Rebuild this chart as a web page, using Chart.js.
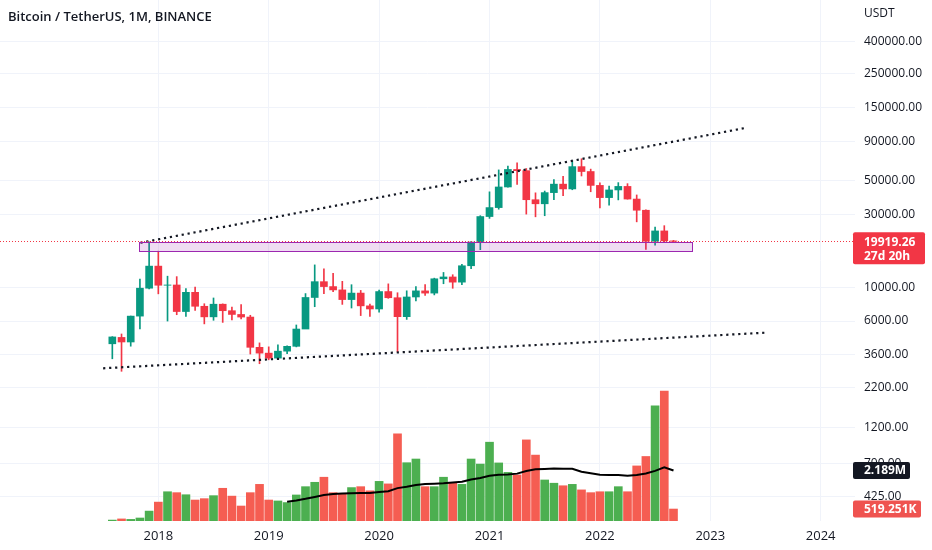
<!DOCTYPE html>
<html>
<head>
<meta charset="utf-8">
<script src="https://cdn.jsdelivr.net/npm/chart.js@4.4.1/dist/chart.umd.min.js"></script>
<style>
    html, body { margin: 0; padding: 0; background: #ffffff; }
    #wrap { width: 932px; height: 550px; position: relative; }
</style>
</head>
<body>
<div id="wrap"><canvas id="btc-chart"></canvas></div>
<script>
"use strict";

// Monthly BTC/USDT candles, Aug 2017 .. Sep 2022
const months = [
    '2017-08', '2017-09', '2017-10', '2017-11', '2017-12',
    '2018-01', '2018-02', '2018-03', '2018-04', '2018-05', '2018-06', '2018-07', '2018-08', '2018-09', '2018-10', '2018-11', '2018-12',
    '2019-01', '2019-02', '2019-03', '2019-04', '2019-05', '2019-06', '2019-07', '2019-08', '2019-09', '2019-10', '2019-11', '2019-12',
    '2020-01', '2020-02', '2020-03', '2020-04', '2020-05', '2020-06', '2020-07', '2020-08', '2020-09', '2020-10', '2020-11', '2020-12',
    '2021-01', '2021-02', '2021-03', '2021-04', '2021-05', '2021-06', '2021-07', '2021-08', '2021-09', '2021-10', '2021-11', '2021-12',
    '2022-01', '2022-02', '2022-03', '2022-04', '2022-05', '2022-06', '2022-07', '2022-08', '2022-09'
];

const opens = [
    4261.48, 4689.89, 4378.49, 6463.00, 9837.00,
    13715.65, 10285.10, 10326.76, 6923.91, 9246.01, 7494.50, 6391.08, 7730.93, 7011.21, 6626.57, 6371.93, 4041.27,
    3702.90, 3434.10, 3813.69, 4102.35, 5320.81, 8555.00, 10854.10, 10080.53, 9588.74, 8289.97, 9140.86, 7541.89,
    7195.24, 9352.89, 8523.61, 6410.44, 8620.00, 9448.27, 9138.08, 11335.46, 11649.51, 10776.59, 13791.00, 19695.87,
    28923.63, 33092.97, 45134.11, 58739.46, 57697.25, 37253.82, 35045.00, 41461.84, 47100.89, 43824.10, 61299.81, 56950.56,
    46216.93, 38466.90, 43160.00, 45510.35, 37630.80, 31801.05, 19942.21, 23296.36, 20050.02
];

const highs = [
    4745.42, 4939.19, 6470.00, 11300.03, 19798.68,
    17176.24, 11786.01, 11710.00, 9765.00, 10020.00, 7786.69, 8491.77, 7769.04, 7410.00, 7680.00, 6545.00, 4319.00,
    4069.80, 4198.00, 4140.00, 5656.00, 9074.26, 13970.00, 13147.08, 12325.00, 10905.87, 10370.00, 9513.40, 7750.00,
    9578.00, 10500.00, 9188.00, 9460.00, 10067.00, 10380.00, 11444.00, 12468.00, 12050.85, 14100.00, 19863.16, 29300.00,
    41950.00, 58352.80, 61844.00, 64854.00, 59592.20, 41330.00, 42448.00, 50500.00, 52920.00, 67000.00, 69000.00, 59053.55,
    47990.00, 45821.00, 48189.84, 47444.11, 40023.77, 31982.97, 24668.00, 25211.32, 20208.37
];

const lows = [
    3400.00, 2817.00, 4110.00, 5325.01, 9722.00,
    9035.00, 6000.01, 6600.10, 6430.00, 7032.95, 5750.00, 6070.00, 5880.00, 6100.00, 6205.00, 3652.66, 3156.26,
    3349.92, 3371.00, 3670.69, 4067.00, 5350.00, 7444.00, 9070.00, 9320.00, 7710.00, 7300.00, 6515.00, 6435.00,
    6871.04, 8445.00, 3782.13, 6150.11, 8117.00, 8833.00, 8893.03, 10518.50, 9825.00, 10374.00, 13195.00, 17572.33,
    28130.00, 32296.16, 44950.53, 46930.00, 30000.00, 28805.00, 29278.00, 37332.70, 39600.00, 43283.03, 53256.64, 42000.30,
    32917.17, 34322.28, 37155.00, 37578.20, 26700.00, 17622.00, 18781.00, 19520.00, 19560.00
];

const closes = [
    4724.89, 4378.48, 6463.00, 9838.96, 13716.36,
    10285.10, 10326.76, 6923.91, 9246.01, 7494.50, 6391.08, 7730.93, 7011.21, 6626.57, 6371.93, 4041.32, 3702.90,
    3434.10, 3813.69, 4102.35, 5320.81, 8555.00, 10854.10, 10080.53, 9588.74, 8289.34, 9140.85, 7541.89, 7195.23,
    9352.89, 8523.61, 6410.44, 8620.00, 9448.27, 9138.55, 11335.46, 11649.51, 10776.59, 13791.00, 19695.87, 28923.63,
    33092.98, 45135.66, 58740.55, 57694.27, 37253.81, 35045.00, 41461.83, 47100.89, 43824.43, 61299.80, 56950.56, 46216.93,
    38466.90, 43160.00, 45510.34, 37630.80, 31801.04, 19942.21, 23293.32, 20050.02, 19919.26
];

// Volume in BTC
const volumes = [
    40000, 90000, 70000, 130000, 430000,
    820000, 1270000, 1230000, 1140000, 910000, 970000, 1100000, 1420000, 1080000, 650000, 1230000, 1590000,
    910000, 870000, 800000, 1130000, 1490000, 1680000, 1900000, 1230000, 1200000, 1450000, 1490000, 1310000,
    1720000, 1610000, 3780000, 2530000, 2690000, 1490000, 1490000, 1900000, 1660000, 1590000, 2690000, 2470000,
    3420000, 2520000, 2110000, 2000000, 3520000, 2860000, 1780000, 1640000, 1530000, 1590000, 1350000, 1230000,
    1270000, 1270000, 1490000, 1270000, 2390000, 2800000, 5000000, 5640000, 519251
];

const yearLabels = ['2018', '2019', '2020', '2021', '2022', '2023', '2024'];
const priceTicks = [400000, 250000, 150000, 90000, 50000, 30000, 10000, 6000, 3600, 2200, 1200, 700, 425];

// Drawings: [month index, price]
const upperTrend = [[3.05, 19500], [68.96, 110130]];
const lowerTrend = [[-1.0, 2947], [70.94, 5035]];
const zoneStart = 2.93;
const zoneEnd = 63.0;
const zoneHigh = 19800;
const zoneLow = 17200;

const lastPrice = 19919.26;
const maLength = 20;

// Scale windows
const X_MIN = -12.21;
const X_MAX = 80.73;
const Y_MIN = 296;
const Y_MAX = 752600;
const VOL_MAX = 22610000;

const GREEN = '#089981';
const RED = '#f23645';
const VOL_GREEN = '#4caf50';
const VOL_RED = '#f55d52';
const TEXT = '#131722';
const GRID = '#f0f3fa';

Chart.defaults.font.family = '"Open Sans", sans-serif';
Chart.defaults.font.size = 12;
Chart.defaults.color = TEXT;

const yearIdx = yearLabels.map(y => (parseInt(y) - 2017) * 12 - 7);
const isUp = months.map((m, i) => closes[i] >= opens[i]);

// 20-period SMA of volume, as in the Volume indicator
const volMa = [];
volumes.forEach((v, i) => {
    if (i < maLength - 1) return;
    let sum = 0;
    for (let k = i - maLength + 1; k <= i; k++) sum += volumes[k];
    volMa.push({ x: i, y: sum / maLength });
});

const overlayPlugin = {
    id: 'tvOverlay',
    afterDatasetsDraw(chart) {
        const { ctx, chartArea, scales: { x, y } } = chart;
        ctx.save();

        // support zone
        const x0 = Math.round(x.getPixelForValue(zoneStart)) + 0.5;
        const x1 = Math.round(x.getPixelForValue(zoneEnd)) + 0.5;
        const y0 = Math.round(y.getPixelForValue(zoneHigh)) + 0.5;
        const y1 = Math.round(y.getPixelForValue(zoneLow)) + 0.5;
        ctx.fillStyle = 'rgba(156, 39, 176, 0.16)';
        ctx.fillRect(x0, y0, x1 - x0, y1 - y0);
        ctx.strokeStyle = '#9c27b0';
        ctx.lineWidth = 1;
        ctx.strokeRect(x0, y0, x1 - x0, y1 - y0);

        // last price line
        const yp = Math.round(y.getPixelForValue(lastPrice)) + 0.5;
        ctx.strokeStyle = RED;
        ctx.setLineDash([1, 2]);
        ctx.beginPath();
        ctx.moveTo(chartArea.left, yp);
        ctx.lineTo(chartArea.right, yp);
        ctx.stroke();
        ctx.restore();
    },
    afterDraw(chart) {
        const { ctx, chartArea, scales: { y, yv } } = chart;
        const left = chartArea.right + 9;
        ctx.save();
        ctx.textBaseline = 'middle';
        ctx.textAlign = 'left';

        ctx.fillStyle = TEXT;
        ctx.font = '600 13px "Open Sans", sans-serif';
        ctx.fillText('Bitcoin / TetherUS, 1M, BINANCE', 8, 17);
        ctx.font = '12px "Open Sans", sans-serif';
        ctx.fillText('USDT', left, 14);

        const badge = (top, h, w, bg, lines) => {
            ctx.fillStyle = bg;
            ctx.beginPath();
            ctx.roundRect(chartArea.right - 2, top, w, h, 2);
            ctx.fill();
            ctx.fillStyle = '#ffffff';
            ctx.font = 'bold 12px "Open Sans", sans-serif';
            lines.forEach(l => ctx.fillText(l[0], left, l[1]));
        };

        const yp = y.getPixelForValue(lastPrice);
        badge(yp - 9, 32, 72, RED, [['19919.26', yp + 1], ['27d 20h', yp + 15]]);

        const ym = yv.getPixelForValue(volMa[volMa.length - 1].y);
        badge(ym - 8.5, 17, 57, TEXT, [['2.189M', ym + 0.5]]);

        const yvol = yv.getPixelForValue(volumes[volumes.length - 1]);
        badge(yvol - 8.5, 17, 68, '#ef5350', [['519.251K', yvol + 0.5]]);
        ctx.restore();
    }
};

const trendData = pts => pts.map(p => ({ x: p[0], y: p[1] }));

new Chart(document.getElementById('btc-chart'), {
    type: 'bar',
    data: {
        datasets: [
            {
                label: 'Volume',
                data: volumes.map((v, i) => ({ x: i, y: v })),
                backgroundColor: isUp.map(u => u ? VOL_GREEN : VOL_RED),
                barThickness: 8,
                grouped: false,
                yAxisID: 'yv',
                order: 6
            },
            {
                type: 'line',
                label: 'Volume MA',
                data: volMa,
                borderColor: '#000000',
                borderWidth: 2,
                pointRadius: 0,
                tension: 0,
                yAxisID: 'yv',
                order: 5
            },
            {
                label: 'Wicks',
                data: months.map((m, i) => ({ x: i, y: [lows[i], highs[i]] })),
                backgroundColor: isUp.map(u => u ? GREEN : RED),
                barThickness: 1,
                grouped: false,
                yAxisID: 'y',
                order: 4
            },
            {
                label: 'Bodies',
                data: months.map((m, i) => ({ x: i, y: [opens[i], closes[i]] })),
                backgroundColor: isUp.map(u => u ? GREEN : RED),
                barThickness: 7,
                grouped: false,
                yAxisID: 'y',
                order: 3
            },
            {
                type: 'line',
                label: 'Upper trend',
                data: trendData(upperTrend),
                borderColor: TEXT,
                borderWidth: 2.2,
                borderDash: [2.2, 3.8],
                pointRadius: 0,
                yAxisID: 'y',
                order: 2
            },
            {
                type: 'line',
                label: 'Lower trend',
                data: trendData(lowerTrend),
                borderColor: TEXT,
                borderWidth: 2.2,
                borderDash: [2.2, 3.8],
                pointRadius: 0,
                yAxisID: 'y',
                order: 2
            }
        ]
    },
    options: {
        responsive: true,
        maintainAspectRatio: false,
        animation: false,
        events: [],
        layout: { padding: 0 },
        plugins: {
            legend: { display: false },
            tooltip: { enabled: false }
        },
        scales: {
            x: {
                type: 'linear',
                min: X_MIN,
                max: X_MAX,
                offset: false,
                bounds: 'data',
                grid: { color: GRID, offset: false, drawTicks: false },
                border: { display: false },
                afterBuildTicks: (scale) => {
                    scale.ticks = yearIdx.map(v => ({ value: v }));
                },
                afterFit: (scale) => {
                    scale.height = 29;
                    scale.paddingLeft = 0;
                    scale.paddingRight = 0;
                },
                ticks: {
                    autoSkip: false,
                    maxRotation: 0,
                    padding: 7,
                    font: { size: 13 },
                    color: TEXT,
                    callback: (value) => yearLabels[yearIdx.indexOf(value)]
                }
            },
            y: {
                type: 'logarithmic',
                position: 'right',
                min: Y_MIN,
                max: Y_MAX,
                bounds: 'data',
                grid: { color: GRID, drawTicks: false },
                border: { display: false },
                afterBuildTicks: (scale) => {
                    scale.ticks = priceTicks.map(v => ({ value: v }));
                },
                afterFit: (scale) => {
                    scale.width = 77;
                    scale.paddingTop = 0;
                    scale.paddingBottom = 0;
                },
                ticks: {
                    autoSkip: false,
                    padding: 9,
                    crossAlign: 'near',
                    color: TEXT,
                    callback: (value) => Number(value).toFixed(2)
                }
            },
            yv: {
                type: 'linear',
                display: false,
                min: 0,
                max: VOL_MAX
            }
        }
    },
    plugins: [overlayPlugin]
});
</script>
</body>
</html>
